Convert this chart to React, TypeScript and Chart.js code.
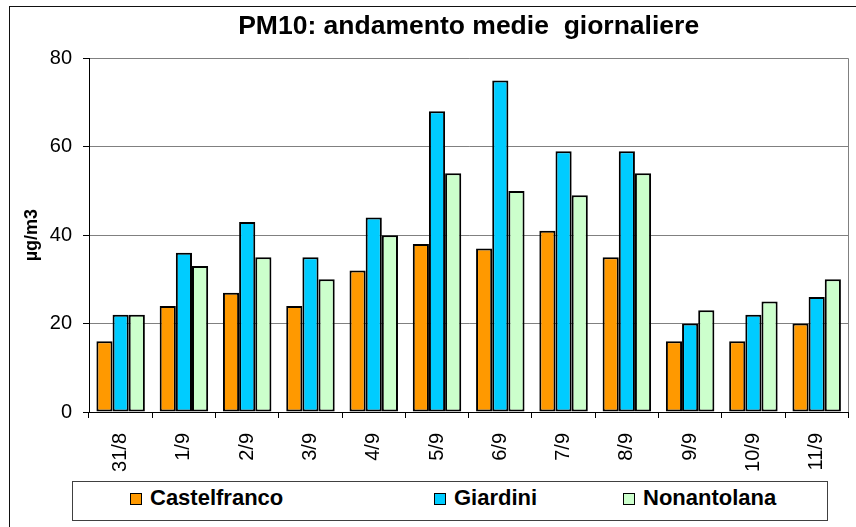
import React, { useEffect, useRef } from 'react';
import { Chart, registerables } from 'chart.js';

Chart.register(...registerables);

// ---- data ----
const categories = ['31/8', '1/9', '2/9', '3/9', '4/9', '5/9', '6/9', '7/9', '8/9', '9/9', '10/9', '11/9'];
const castelfranco = [16, 24, 27, 24, 32, 38, 37, 41, 35, 16, 16, 20];
const giardini = [22, 36, 43, 35, 44, 68, 75, 59, 59, 20, 22, 26];
const nonantolana = [22, 33, 35, 30, 40, 54, 50, 49, 54, 23, 25, 30];
const yTicks = [0, 20, 40, 60, 80];
const seriesNames = ['Castelfranco', 'Giardini', 'Nonantolana'];
const seriesColors = ['#FF9900', '#00CCFF', '#CCFFCC'];
const titleText = 'PM10: andamento medie  giornaliere';
const yTitle = 'µg/m3';

const FONT = "'Liberation Sans', Arial, Helvetica, sans-serif";
const legendItemLeft = [57, 361, 550];

const plotBorder = {
  id: 'plotBorder',
  beforeDatasetsDraw(chart: any) {
    const { ctx, chartArea } = chart;
    const x = Math.round(chartArea.right) + 0.5;
    ctx.save();
    ctx.strokeStyle = '#808080';
    ctx.lineWidth = 1;
    ctx.beginPath();
    ctx.moveTo(x, chartArea.top);
    ctx.lineTo(x, chartArea.bottom);
    ctx.stroke();
    ctx.restore();
  },
};

export default function App() {
  const ref = useRef<HTMLCanvasElement | null>(null);

  useEffect(() => {
    document.body.style.overflow = 'hidden';
    const series = [castelfranco, giardini, nonantolana];
    const chart = new Chart(ref.current as HTMLCanvasElement, {
      type: 'bar',
      data: {
        labels: categories,
        datasets: series.map((d, i) => ({
          label: seriesNames[i],
          data: d,
          backgroundColor: seriesColors[i],
          borderColor: '#000000',
          borderWidth: 2,
          borderSkipped: false,
          barPercentage: 1,
          categoryPercentage: 0.766,
        })),
      },
      options: {
        responsive: false,
        animation: false,
        devicePixelRatio: 1,
        layout: { padding: { left: 14, right: 7, top: 0, bottom: 45 } },
        plugins: {
          legend: { display: false },
          tooltip: { enabled: false },
          title: {
            display: true,
            fullSize: false,
            text: titleText,
            color: '#000',
            font: { family: FONT, size: 26.5, weight: 'bold' },
            padding: { top: 11, bottom: 15.5 },
          },
        },
        scales: {
          x: {
            grid: {
              display: true,
              drawOnChartArea: false,
              drawTicks: true,
              tickLength: 6,
              tickColor: '#000',
              offset: true,
            },
            border: { display: true, color: '#000', width: 1 },
            ticks: {
              color: '#000',
              font: { family: FONT, size: 20 },
              minRotation: 90,
              maxRotation: 90,
              padding: 15,
              autoSkip: false,
            },
            afterFit: (s: any) => {
              s.height = 70;
            },
          },
          y: {
            min: 0,
            max: 80,
            grid: { color: '#808080', lineWidth: 1, tickLength: 6, tickColor: '#000' },
            border: { display: true, color: '#000', width: 1 },
            ticks: {
              color: '#000',
              font: { family: FONT, size: 20 },
              padding: 11,
              stepSize: 20,
            },
            afterBuildTicks: (s: any) => {
              s.ticks = yTicks.map((v) => ({ value: v }));
            },
            title: {
              display: true,
              text: yTitle,
              color: '#000',
              font: { family: FONT, size: 18, weight: 'bold' },
              padding: { top: 7, bottom: 0 },
            },
            afterFit: (s: any) => {
              s.width = 75;
            },
          },
        },
      },
      plugins: [plotBorder],
    } as any);
    return () => chart.destroy();
  }, []);

  return (
    <div style={{ position: 'absolute', left: 0, top: 0, width: 856, height: 527, overflow: 'hidden', background: '#fff' }}>
      <div
        style={{
          position: 'absolute',
          left: 9,
          top: 6,
          width: 860,
          height: 530,
          borderLeft: '1px solid #111',
          borderTop: '1px solid #111',
        }}
      />
      <canvas ref={ref} width={856} height={527} style={{ position: 'absolute', left: 0, top: 0, width: 856, height: 527 }} />
      <div
        style={{
          position: 'absolute',
          left: 72,
          top: 481,
          width: 756,
          height: 40,
          boxSizing: 'border-box',
          border: '1px solid #404040',
          background: '#fff',
        }}
      >
        {seriesNames.map((n, i) => (
          <React.Fragment key={n}>
            <span
              style={{
                position: 'absolute',
                left: legendItemLeft[i],
                top: 11,
                width: 12,
                height: 12,
                boxSizing: 'border-box',
                border: '1px solid #000',
                background: seriesColors[i],
              }}
            />
            <span
              style={{
                position: 'absolute',
                left: legendItemLeft[i] + 20,
                top: 3,
                lineHeight: '25px',
                font: `bold 22px ${FONT}`,
                color: '#000',
                whiteSpace: 'nowrap',
              }}
            >
              {n}
            </span>
          </React.Fragment>
        ))}
      </div>
    </div>
  );
}
